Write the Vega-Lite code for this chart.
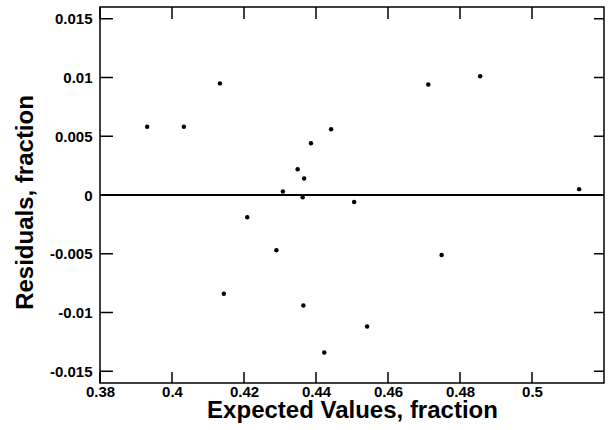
{
  "$schema": "https://vega.github.io/schema/vega-lite/v6.json",
  "width": 504,
  "height": 376,
  "autosize": {"type": "none"},
  "padding": {"left": 100, "top": 7, "right": 7, "bottom": 47},
  "background": "white",
  "config": {
    "view": {"stroke": "black", "strokeWidth": 1.5},
    "axis": {
      "grid": false,
      "domain": false,
      "tickOpacity": 0,
      "labelFont": "Liberation Sans",
      "labelFontWeight": "bold",
      "labelFontSize": 15,
      "labelColor": "black",
      "titleFont": "Liberation Sans",
      "titleFontWeight": "bold",
      "titleFontSize": 24,
      "titleColor": "black"
    }
  },
  "datasets": {
    "points": [
      {"expected": 0.3931, "residual": 0.0058},
      {"expected": 0.4033, "residual": 0.0058},
      {"expected": 0.4133, "residual": 0.0095},
      {"expected": 0.4144, "residual": -0.0084},
      {"expected": 0.4209, "residual": -0.0019},
      {"expected": 0.4290, "residual": -0.0047},
      {"expected": 0.4308, "residual": 0.0003},
      {"expected": 0.4349, "residual": 0.0022},
      {"expected": 0.4363, "residual": -0.0002},
      {"expected": 0.4365, "residual": -0.0094},
      {"expected": 0.4367, "residual": 0.0014},
      {"expected": 0.4386, "residual": 0.0044},
      {"expected": 0.4423, "residual": -0.0134},
      {"expected": 0.4442, "residual": 0.0056},
      {"expected": 0.4506, "residual": -0.0006},
      {"expected": 0.4542, "residual": -0.0112},
      {"expected": 0.4712, "residual": 0.0094},
      {"expected": 0.4749, "residual": -0.0051},
      {"expected": 0.4856, "residual": 0.0101},
      {"expected": 0.5131, "residual": 0.0005}
    ],
    "xticks": [
      {"expected": 0.38}, {"expected": 0.4}, {"expected": 0.42}, {"expected": 0.44},
      {"expected": 0.46}, {"expected": 0.48}, {"expected": 0.5}
    ],
    "yticks": [
      {"residual": -0.015}, {"residual": -0.01}, {"residual": -0.005}, {"residual": 0},
      {"residual": 0.005}, {"residual": 0.01}, {"residual": 0.015}
    ],
    "zero": [{"residual": 0}]
  },
  "layer": [
    {
      "data": {"name": "zero"},
      "mark": {"type": "rule", "color": "black", "strokeWidth": 2},
      "encoding": {
        "y": {"field": "residual", "type": "quantitative", "scale": {"domain": [-0.016, 0.016], "nice": false, "zero": false}}
      }
    },
    {
      "data": {"name": "xticks"},
      "mark": {"type": "rule", "color": "black", "strokeWidth": 1.5},
      "encoding": {
        "x": {"field": "expected", "type": "quantitative"},
        "y": {"datum": -0.016},
        "y2": {"datum": -0.01506}
      }
    },
    {
      "data": {"name": "xticks"},
      "mark": {"type": "rule", "color": "black", "strokeWidth": 1.5},
      "encoding": {
        "x": {"field": "expected", "type": "quantitative"},
        "y": {"datum": 0.016},
        "y2": {"datum": 0.01498}
      }
    },
    {
      "data": {"name": "yticks"},
      "mark": {"type": "rule", "color": "black", "strokeWidth": 1.5},
      "encoding": {
        "y": {"field": "residual", "type": "quantitative"},
        "x": {"datum": 0.38},
        "x2": {"datum": 0.3836}
      }
    },
    {
      "data": {"name": "yticks"},
      "mark": {"type": "rule", "color": "black", "strokeWidth": 1.5},
      "encoding": {
        "y": {"field": "residual", "type": "quantitative"},
        "x": {"datum": 0.52},
        "x2": {"datum": 0.5172}
      }
    },
    {
      "data": {"name": "points"},
      "mark": {"type": "circle", "color": "black", "opacity": 1, "size": 20},
      "encoding": {
        "x": {
          "field": "expected", "type": "quantitative",
          "scale": {"domain": [0.38, 0.52], "nice": false, "zero": false},
          "axis": {
            "orient": "bottom",
            "title": "Expected Values, fraction",
            "values": [0.38, 0.4, 0.42, 0.44, 0.46, 0.48, 0.5],
            "labelExpr": "replace(format(datum.value, '~g'), '−', '-')",
            "tickSize": -11,
            "labelPadding": 12,
            "labelFlush": false,
            "labelOverlap": false,
            "titleX": 252,
            "titleY": 34,
            "titleBaseline": "alphabetic"
          }
        },
        "y": {
          "field": "residual", "type": "quantitative",
          "scale": {"domain": [-0.016, 0.016], "nice": false, "zero": false},
          "axis": {
            "orient": "left",
            "title": "Residuals, fraction",
            "values": [-0.015, -0.01, -0.005, 0, 0.005, 0.01, 0.015],
            "labelExpr": "replace(format(datum.value, '~g'), '−', '-')",
            "tickSize": -13,
            "labelPadding": 21,
            "labelFlush": false,
            "labelOverlap": false,
            "titleX": -68,
            "titleY": 195,
            "titleBaseline": "alphabetic"
          }
        }
      }
    }
  ]
}
